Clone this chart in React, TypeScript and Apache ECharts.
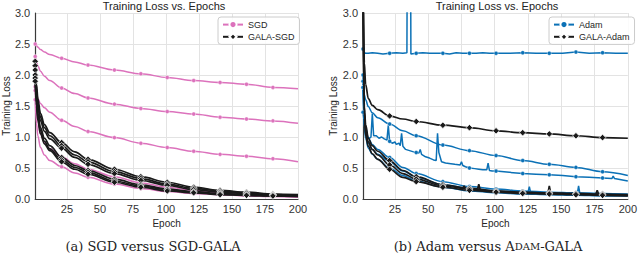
import React, { useEffect, useRef } from 'react';
import * as echarts from 'echarts';

const EPOCHS = [1, 2, 3, 5, 8, 12, 21, 31, 41, 61, 81, 101, 121, 141, 161, 181, 200];
const MARK_EPOCHS = [1, 21, 41, 61, 81, 101, 121, 141, 161, 181];
const X_TICKS = [25, 50, 75, 100, 125, 150, 175, 200];

// Left panel: SGD vs GALA-SGD
const SGD_1 = [2.5, 2.47, 2.45, 2.41, 2.37, 2.33, 2.27, 2.21, 2.16, 2.08, 2.02, 1.96, 1.91, 1.88, 1.85, 1.8, 1.78];
const SGD_2 = [2.3, 2.21, 2.15, 2.06, 1.98, 1.91, 1.79, 1.7, 1.63, 1.53, 1.46, 1.41, 1.37, 1.32, 1.29, 1.26, 1.22];
const SGD_3 = [1.81, 1.69, 1.62, 1.54, 1.47, 1.4, 1.27, 1.17, 1.09, 0.99, 0.9, 0.83, 0.77, 0.72, 0.69, 0.65, 0.6];
const SGD_4 = [1.75, 1.45, 1.26, 1.05, 0.91, 0.81, 0.68, 0.57, 0.48, 0.36, 0.26, 0.19, 0.14, 0.1, 0.08, 0.06, 0.05];
const SGD_5 = [1.6, 1.22, 1.02, 0.83, 0.71, 0.62, 0.52, 0.42, 0.35, 0.24, 0.17, 0.12, 0.09, 0.07, 0.05, 0.04, 0.03];
const GALA_SGD_1 = [2.22, 1.85, 1.62, 1.38, 1.2, 1.07, 0.91, 0.76, 0.64, 0.48, 0.36, 0.27, 0.19, 0.14, 0.11, 0.08, 0.07];
const GALA_SGD_2 = [2.15, 1.78, 1.55, 1.32, 1.15, 1.02, 0.86, 0.71, 0.6, 0.44, 0.33, 0.24, 0.17, 0.13, 0.1, 0.07, 0.06];
const GALA_SGD_3 = [2.08, 1.7, 1.48, 1.26, 1.09, 0.97, 0.82, 0.67, 0.56, 0.41, 0.3, 0.22, 0.15, 0.11, 0.09, 0.07, 0.06];
const GALA_SGD_4 = [2.0, 1.6, 1.38, 1.15, 0.98, 0.86, 0.67, 0.54, 0.46, 0.32, 0.23, 0.16, 0.12, 0.09, 0.07, 0.06, 0.05];
const GALA_SGD_5 = [1.95, 1.55, 1.32, 1.1, 0.93, 0.81, 0.63, 0.51, 0.43, 0.29, 0.21, 0.15, 0.11, 0.08, 0.06, 0.05, 0.04];
const GALA_SGD_6 = [1.9, 1.5, 1.27, 1.05, 0.89, 0.78, 0.6, 0.48, 0.4, 0.27, 0.19, 0.13, 0.1, 0.07, 0.06, 0.05, 0.04];

// Right panel: Adam vs GALA-Adam
const ADAM_FLAT_EPOCHS = [1, 2, 3, 5, 8, 12, 16, 21, 26, 31, 34, 35, 36, 37, 41, 46, 51, 56, 61, 66, 71, 76, 81, 86, 91, 96, 101, 111, 121, 131, 141, 151, 161, 171, 181, 191, 200];
const ADAM_FLAT = [2.42, 2.36, 2.35, 2.35, 2.36, 2.35, 2.34, 2.35, 2.36, 2.35, 2.36, 9, 9, 2.34, 2.35, 2.36, 2.35, 2.35, 2.35, 2.34, 2.36, 2.35, 2.35, 2.35, 2.36, 2.35, 2.35, 2.35, 2.36, 2.35, 2.35, 2.35, 2.37, 2.35, 2.36, 2.35, 2.35];
const ADAM_MID = [1.8, 1.68, 1.6, 1.49, 1.39, 1.31, 1.21, 1.1, 1.02, 0.87, 0.78, 0.7, 0.62, 0.56, 0.51, 0.44, 0.38];
const ADAM_NOISY_EPOCHS = [1, 2, 3, 4, 6, 7, 8, 9, 11, 13, 15, 17, 19, 20, 21, 23, 25, 26, 28, 29, 30, 31, 33, 36, 39, 41, 43, 44, 45, 48, 51, 54, 56, 57, 58, 60, 63, 67, 70, 74, 75, 76, 78, 81, 85, 88, 91, 94, 95, 96, 98, 101, 111, 121, 131, 141, 151, 161, 171, 181, 188, 189, 190, 200];
const ADAM_NOISY = [1.4, 1.22, 1.08, 1.0, 0.98, 1.0, 1.38, 1.02, 1.02, 0.98, 1.0, 0.97, 0.95, 1.19, 0.93, 0.9, 0.92, 0.88, 0.9, 0.86, 1.06, 0.85, 0.8, 0.78, 0.76, 0.75, 0.74, 0.8, 0.72, 0.68, 0.66, 0.63, 0.62, 1.06, 0.75, 0.6, 0.58, 0.57, 0.56, 0.55, 0.6, 0.54, 0.52, 0.5, 0.49, 0.48, 0.47, 0.47, 0.58, 0.46, 0.45, 0.45, 0.43, 0.41, 0.4, 0.39, 0.38, 0.36, 0.35, 0.34, 0.33, 0.37, 0.33, 0.29];
const ADAM_LOW_1 = [2.0, 1.35, 1.15, 0.98, 0.88, 0.8, 0.67, 0.51, 0.41, 0.28, 0.2, 0.16, 0.13, 0.11, 0.1, 0.09, 0.08];
const ADAM_LOW_2 = [1.9, 1.25, 1.05, 0.9, 0.8, 0.72, 0.6, 0.45, 0.35, 0.23, 0.17, 0.13, 0.11, 0.09, 0.08, 0.07, 0.06];
const ADAM_LOW_3 = [1.8, 1.15, 0.98, 0.82, 0.72, 0.64, 0.5, 0.38, 0.29, 0.19, 0.13, 0.1, 0.08, 0.07, 0.06, 0.05, 0.05];
const ADAM_BUMP_EPOCHS = [[125, 126, 127], [162, 163, 164]];
const ADAM_BUMP_VALUES = [[0.11, 0.2, 0.1], [0.08, 0.21, 0.08]];
const GALA_ADAM_UP = [3.8, 2.2, 1.85, 1.62, 1.51, 1.44, 1.34, 1.29, 1.25, 1.19, 1.15, 1.1, 1.07, 1.05, 1.02, 0.99, 0.98];
const GALA_ADAM_LOW_1 = [3.6, 1.5, 1.2, 0.98, 0.86, 0.77, 0.62, 0.46, 0.36, 0.23, 0.17, 0.13, 0.11, 0.1, 0.09, 0.08, 0.07];
const GALA_ADAM_LOW_2 = [3.4, 1.4, 1.1, 0.92, 0.8, 0.71, 0.55, 0.41, 0.32, 0.21, 0.16, 0.12, 0.1, 0.09, 0.08, 0.07, 0.06];
const GALA_ADAM_LOW_3 = [3.2, 1.3, 1.02, 0.85, 0.73, 0.64, 0.48, 0.35, 0.28, 0.19, 0.14, 0.11, 0.09, 0.08, 0.07, 0.06, 0.05];
const GALA_ADAM_BUMP_EPOCHS = [[76, 77, 78], [87, 88, 89], [140, 141, 142], [176, 177, 178]];
const GALA_ADAM_BUMP_VALUES = [[0.18, 0.21, 0.17], [0.15, 0.24, 0.15], [0.1, 0.21, 0.1], [0.085, 0.14, 0.08]];

const PINK = '#dc72bc';
const BLUE = '#0b71b6';
const BLACK = '#1a1a1a';
const SANS = '"Liberation Sans", Arial, sans-serif';
const SERIF = '"DejaVu Serif", serif';

type Opt = { smooth: boolean; symbol: string; size: number; border: number; z: number; marks: boolean; width: number };

function mk(name: string, grid: number, epochs: number[], values: number[], color: string, o: Opt) {
  return {
    type: 'line',
    name,
    xAxisIndex: grid,
    yAxisIndex: grid,
    data: epochs.map((e, i) =>
      o.marks && MARK_EPOCHS.includes(e) ? { value: [e, values[i]] } : { value: [e, values[i]], symbol: 'none' }
    ),
    smooth: o.smooth ? 0.35 : false,
    smoothMonotone: 'x',
    symbol: o.symbol,
    symbolSize: o.size,
    showSymbol: true,
    lineStyle: { color, width: o.width },
    itemStyle: { color, borderColor: '#ffffff', borderWidth: o.border },
    z: o.z,
    clip: true,
    silent: true,
    emphasis: { disabled: true },
  };
}

const pinkOpt: Opt = { smooth: true, symbol: 'circle', size: 4, border: 0.4, z: 2, marks: true, width: 1.5 };
const blackOpt: Opt = { smooth: true, symbol: 'diamond', size: 6.5, border: 0.7, z: 4, marks: true, width: 1.7 };
const blueOpt: Opt = { smooth: true, symbol: 'circle', size: 4, border: 0.4, z: 2, marks: true, width: 1.5 };

function xAxis(grid: number) {
  return {
    type: 'value',
    gridIndex: grid,
    min: 1,
    max: 200,
    name: 'Epoch',
    nameLocation: 'middle',
    nameGap: 15,
    nameTextStyle: { fontSize: 10, color: '#262626', fontFamily: SANS },
    axisLine: { show: true, lineStyle: { color: '#3a3a3a', width: 1.2 } },
    axisTick: { show: false, customValues: X_TICKS },
    axisLabel: { customValues: X_TICKS, fontSize: 11, color: '#333', fontFamily: SANS, margin: 4 },
    splitLine: { show: true, lineStyle: { color: '#e3e3e3', width: 1 } },
  };
}

function yAxis(grid: number) {
  return {
    type: 'value',
    gridIndex: grid,
    min: 0,
    max: 3,
    interval: 0.5,
    name: 'Training Loss',
    nameLocation: 'middle',
    nameGap: 22,
    nameRotate: 90,
    nameTextStyle: { fontSize: 10, color: '#262626', fontFamily: SANS },
    axisLine: { show: true, lineStyle: { color: '#3a3a3a', width: 1.2 } },
    axisTick: { show: false },
    axisLabel: { fontSize: 11, color: '#333', fontFamily: SANS, margin: 5, formatter: (v: number) => v.toFixed(1) },
    splitLine: { show: true, lineStyle: { color: '#e3e3e3', width: 1 } },
  };
}

function legend(left: number, names: string[]) {
  return {
    orient: 'vertical',
    left,
    top: 17,
    data: names,
    padding: [3, 5, 3, 4],
    itemGap: 3,
    itemWidth: 20,
    itemHeight: 9,
    borderColor: '#cccccc',
    borderWidth: 1,
    borderRadius: 3,
    backgroundColor: 'rgba(255,255,255,0.85)',
    textStyle: { fontSize: 9, color: '#262626', fontFamily: SANS },
    selectedMode: false,
  };
}

const textStyle = (text: string, font: string) => ({
  text, font, fill: '#222', align: 'center', verticalAlign: 'middle', textAlign: 'center', textVerticalAlign: 'middle',
});

export default function App() {
  const ref = useRef<HTMLDivElement>(null);
  useEffect(() => {
    if (!ref.current) return;
    const chart = echarts.init(ref.current, undefined, { renderer: 'svg' });
    const series: any[] = [
      mk('SGD', 0, EPOCHS, SGD_1, PINK, pinkOpt),
      mk('SGD', 0, EPOCHS, SGD_2, PINK, pinkOpt),
      mk('SGD', 0, EPOCHS, SGD_3, PINK, pinkOpt),
      mk('SGD', 0, EPOCHS, SGD_4, PINK, pinkOpt),
      mk('SGD', 0, EPOCHS, SGD_5, PINK, pinkOpt),
      mk('GALA-SGD', 0, EPOCHS, GALA_SGD_1, BLACK, blackOpt),
      mk('GALA-SGD', 0, EPOCHS, GALA_SGD_2, BLACK, blackOpt),
      mk('GALA-SGD', 0, EPOCHS, GALA_SGD_3, BLACK, blackOpt),
      mk('GALA-SGD', 0, EPOCHS, GALA_SGD_4, BLACK, blackOpt),
      mk('GALA-SGD', 0, EPOCHS, GALA_SGD_5, BLACK, blackOpt),
      mk('GALA-SGD', 0, EPOCHS, GALA_SGD_6, BLACK, blackOpt),
      mk('Adam', 1, ADAM_FLAT_EPOCHS, ADAM_FLAT, BLUE, { ...blueOpt, smooth: false }),
      mk('Adam', 1, EPOCHS, ADAM_MID, BLUE, blueOpt),
      mk('Adam', 1, ADAM_NOISY_EPOCHS, ADAM_NOISY, BLUE, { ...blueOpt, smooth: false }),
      mk('Adam', 1, EPOCHS, ADAM_LOW_1, BLUE, blueOpt),
      mk('Adam', 1, EPOCHS, ADAM_LOW_2, BLUE, blueOpt),
      mk('Adam', 1, EPOCHS, ADAM_LOW_3, BLUE, blueOpt),
      ...ADAM_BUMP_EPOCHS.map((ep, i) => mk('Adam', 1, ep, ADAM_BUMP_VALUES[i], BLUE, { ...blueOpt, smooth: false, marks: false })),
      mk('GALA-Adam', 1, EPOCHS, GALA_ADAM_UP, BLACK, blackOpt),
      mk('GALA-Adam', 1, EPOCHS, GALA_ADAM_LOW_1, BLACK, blackOpt),
      mk('GALA-Adam', 1, EPOCHS, GALA_ADAM_LOW_2, BLACK, blackOpt),
      mk('GALA-Adam', 1, EPOCHS, GALA_ADAM_LOW_3, BLACK, blackOpt),
      ...GALA_ADAM_BUMP_EPOCHS.map((ep, i) => mk('GALA-Adam', 1, ep, GALA_ADAM_BUMP_VALUES[i], BLACK, { ...blackOpt, smooth: false, marks: false })),
    ];
    chart.setOption({
      animation: false,
      backgroundColor: '#ffffff',
      grid: [
        { left: 31, top: 13, width: 267, height: 186 },
        { left: 363, top: 13, width: 268, height: 186 },
      ],
      xAxis: [xAxis(0), xAxis(1)],
      yAxis: [yAxis(0), yAxis(1)],
      legend: [legend(218, ['SGD', 'GALA-SGD']), legend(549, ['Adam', 'GALA-Adam'])],
      graphic: [
        { type: 'text', x: 164, y: 6, style: textStyle('Training Loss vs. Epochs', `11px ${SANS}`) },
        { type: 'text', x: 497, y: 6, style: textStyle('Training Loss vs. Epochs', `11px ${SANS}`) },
        { type: 'text', x: 153, y: 246, style: textStyle('(a) SGD versus SGD-GALA', `13px ${SERIF}`) },
        {
          type: 'text', x: 488, y: 246,
          style: {
            text: '{n|(b) Adam versus A}{s|DAM}{n|-GALA}',
            rich: {
              n: { fontSize: 13, fontFamily: SERIF, fill: '#222' },
              s: { fontSize: 10, fontFamily: SERIF, fill: '#222' },
            },
            fill: '#222', align: 'center', verticalAlign: 'middle', textAlign: 'center', textVerticalAlign: 'middle',
          },
        },
      ],
      series,
    });
    return () => chart.dispose();
  }, []);
  return <div ref={ref} style={{ position: 'fixed', left: 0, top: 0, width: 640, height: 253 }} />;
}
